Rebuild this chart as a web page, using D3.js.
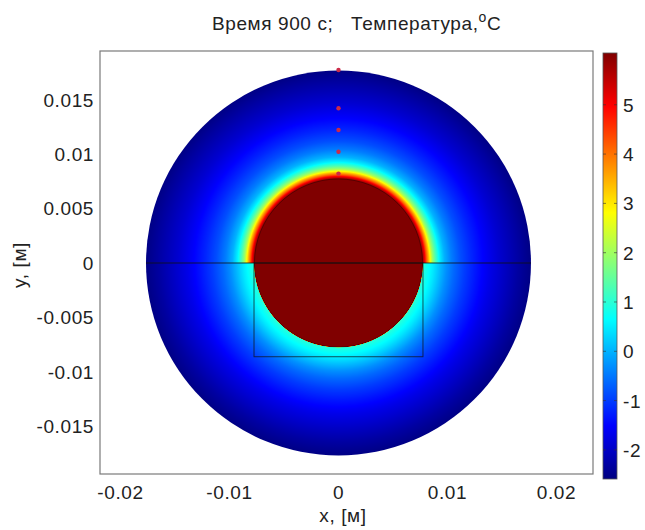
<!DOCTYPE html>
<html><head><meta charset="utf-8">
<script src="https://cdn.jsdelivr.net/npm/d3@7"></script>
<style>body{margin:0;background:#fff}svg{display:block}text{font-family:"Liberation Sans",Arial,sans-serif;fill:#222;letter-spacing:0.6px}</style>
</head><body><svg id="c" width="645" height="530"></svg>
<script>
// ---- data ----
const xTicks = [-0.02, -0.01, 0, 0.01, 0.02];
const yTicks = [-0.015, -0.01, -0.005, 0, 0.005, 0.01, 0.015];
const cbTicks = [-2, -1, 0, 1, 2, 3, 4, 5];
const tempRange = [-2.59, 6.05];
const outerRadius = 0.01766;      // m
const diskRadius = 0.00771;       // m
const rectX = [-0.00775, 0.00775];
const rectY = [-0.0086, 0];
const sensorX = [0, 0, 0, 0, 0];
const sensorY = [0.0082, 0.0102, 0.0122, 0.0142, 0.0177];
// radial temperature profile, upper half (y>0): radius (m), temperature (°C)
const upperR = [0, 0.00771, 0.00780, 0.00794, 0.00807, 0.00826, 0.00844, 0.00862, 0.00890, 0.00927, 0.00972, 0.01037, 0.01119, 0.01220, 0.01339, 0.01468, 0.01606, 0.01766];
const upperT = [6.05, 6.05, 5.6, 5.0, 4.3, 3.5, 2.7, 2.0, 1.3, 0.55, 0.0, -0.45, -0.85, -1.2, -1.55, -1.9, -2.2, -2.55];
// radial temperature profile, lower half (y<0)
const lowerR = [0, 0.00771, 0.00776, 0.00798, 0.00826, 0.00872, 0.00927, 0.00991, 0.01064, 0.01156, 0.01266, 0.01385, 0.01514, 0.01642, 0.01766];
const lowerT = [6.05, 6.05, 1.0, 0.85, 0.7, 0.45, 0.1, -0.3, -0.65, -1.0, -1.35, -1.7, -2.0, -2.3, -2.55];
// jet colormap knots
const jetPos = [0, 0.125, 0.375, 0.625, 0.875, 1];
const jetCol = ["#000080", "#0000ff", "#00ffff", "#ffff00", "#ff0000", "#800000"];

// ---- scales ----
const svg = d3.select("#c");
const x = d3.scaleLinear().domain([-0.02188, 0.02335]).range([100, 593]);
const y = d3.scaleLinear().domain([-0.01936, 0.01945]).range([474, 51]);
const color = d3.scaleLinear()
  .domain(jetPos.map(p => tempRange[0] + p * (tempRange[1] - tempRange[0])))
  .range(jetCol).clamp(true);
const cy = d3.scaleLinear().domain(tempRange).range([479, 53]);

const cx0 = x(0), cy0 = y(0);
const Rpx = x(outerRadius) - x(0);
const defs = svg.append("defs");

function makeGrad(id, rs, ts) {
  const prof = d3.scaleLinear().domain(rs).range(ts);
  const g = defs.append("radialGradient").attr("id", id)
    .attr("gradientUnits", "userSpaceOnUse")
    .attr("cx", 0).attr("cy", 0).attr("fx", 0).attr("fy", 0).attr("r", Rpx);
  const N = 800;
  const radii = d3.range(N + 1).map(i => outerRadius * i / N).concat(rs).sort((a, b) => a - b);
  radii.forEach(r => {
    g.append("stop").attr("offset", r / outerRadius).attr("stop-color", color(prof(r)));
  });
}
makeGrad("gUp", upperR, upperT);
makeGrad("gLo", lowerR, lowerT);

const arc = d3.arc().innerRadius(0).outerRadius(Rpx);
const field = svg.append("g").attr("transform", `translate(${cx0},${cy0})`);
field.append("path").attr("d", arc({startAngle: -Math.PI / 2, endAngle: Math.PI / 2})).attr("fill", "url(#gUp)");
field.append("path").attr("d", arc({startAngle: Math.PI / 2, endAngle: 3 * Math.PI / 2})).attr("fill", "url(#gLo)");

// disk outline
svg.append("circle").attr("cx", cx0).attr("cy", cy0).attr("r", x(diskRadius) - x(0))
  .attr("fill", "none").attr("stroke", "#000").attr("stroke-opacity", 0.3).attr("stroke-width", 1);

// horizontal line and rectangle
svg.append("line").attr("x1", x(-outerRadius)).attr("x2", x(outerRadius)).attr("y1", y(0)).attr("y2", y(0))
  .attr("stroke", "#111").attr("stroke-opacity", 0.8).attr("stroke-width", 1);
svg.append("rect").attr("x", x(rectX[0])).attr("y", y(rectY[1]))
  .attr("width", x(rectX[1]) - x(rectX[0])).attr("height", y(rectY[0]) - y(rectY[1]))
  .attr("fill", "none").attr("stroke", "#111").attr("stroke-opacity", 0.7).attr("stroke-width", 1);

// sensors
svg.selectAll(".s").data(sensorY).enter().append("circle")
  .attr("cx", (d, i) => x(sensorX[i])).attr("cy", d => y(d)).attr("r", 2.2)
  .attr("fill", "#cc2a48");

// frame
svg.append("rect").attr("x", 100).attr("y", 51).attr("width", 493).attr("height", 423)
  .attr("fill", "none").attr("stroke", "#7a7a7a").attr("stroke-width", 1.2);

// tick labels
svg.selectAll(".xt").data(xTicks).enter().append("text")
  .attr("x", d => x(d)).attr("y", 499).attr("text-anchor", "middle")
  .attr("font-size", 19).text(d => String(d));
svg.selectAll(".yt").data(yTicks).enter().append("text")
  .attr("x", 94).attr("y", d => y(d) + 7).attr("text-anchor", "end")
  .attr("font-size", 19).text(d => String(d));

svg.append("text").attr("x", 343).attr("y", 522).attr("text-anchor", "middle").attr("font-size", 19).text("x, [м]");
svg.append("text").attr("transform", "translate(26,265) rotate(-90)").attr("text-anchor", "middle").attr("font-size", 19).text("y, [м]");

const title = svg.append("text").attr("x", 212).attr("y", 30).attr("font-size", 19).attr("xml:space", "preserve");
title.append("tspan").text("Время 900 с;   Температура,");
title.append("tspan").attr("font-size", 14).attr("dy", -8).text("o");
title.append("tspan").attr("dy", 8).text("C");

// colorbar
const cbG = defs.append("linearGradient").attr("id", "cbg").attr("x1", 0).attr("x2", 0).attr("y1", 1).attr("y2", 0);
jetPos.forEach((p, i) => cbG.append("stop").attr("offset", p).attr("stop-color", jetCol[i]));
svg.append("rect").attr("x", 603).attr("y", cy(tempRange[1])).attr("width", 14)
  .attr("height", cy(tempRange[0]) - cy(tempRange[1])).attr("fill", "url(#cbg)")
  .attr("stroke", "#555").attr("stroke-width", 0.8);
svg.selectAll(".cbtl").data(cbTicks).enter().append("line")
  .attr("x1", 603).attr("x2", 606).attr("y1", d => cy(d)).attr("y2", d => cy(d))
  .attr("stroke", "#333").attr("stroke-opacity", 0.6);
svg.selectAll(".cbtr").data(cbTicks).enter().append("line")
  .attr("x1", 614).attr("x2", 617).attr("y1", d => cy(d)).attr("y2", d => cy(d))
  .attr("stroke", "#333").attr("stroke-opacity", 0.6);
svg.selectAll(".cbt").data(cbTicks).enter().append("text")
  .attr("x", 623).attr("y", d => cy(d) + 7).attr("font-size", 19).text(d => String(d));
</script></body></html>
